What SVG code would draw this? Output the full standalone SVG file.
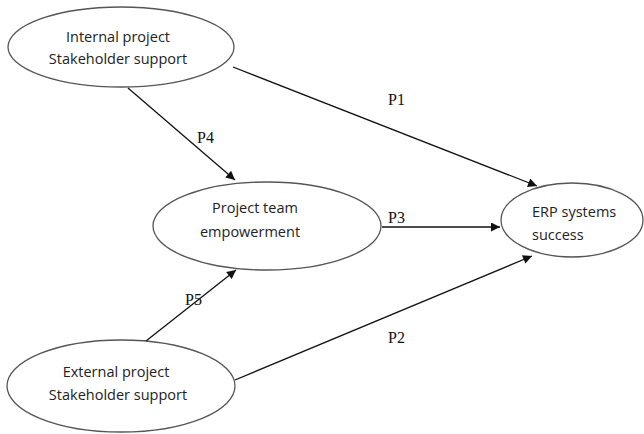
<svg xmlns="http://www.w3.org/2000/svg" width="644" height="434" viewBox="0 0 644 434">
<style>
.n{fill:#fff;stroke:#555;stroke-width:1.3}
.t{font-family:"Open Sans","Liberation Sans",sans-serif;font-size:14.5px;fill:#222}
.l{font-family:"Liberation Serif",serif;font-size:16px;fill:#111}
.c{stroke:#111;stroke-width:1.3;fill:none;marker-end:url(#a)}
</style>
<defs>
<marker id="a" viewBox="0 0 10 10" refX="10" refY="5" markerWidth="11" markerHeight="9" markerUnits="userSpaceOnUse" orient="auto"><path d="M0,0L10,5L0,10z" fill="#111"/></marker>
</defs>
<rect width="644" height="434" fill="#fff"/>
<g id="internal"><ellipse class="n" cx="121" cy="47" rx="113" ry="40"/>
<text class="t" x="118" y="42" text-anchor="middle">Internal project</text>
<text class="t" x="118" y="64" text-anchor="middle">Stakeholder support</text></g>
<g id="team"><ellipse class="n" cx="267" cy="226" rx="114" ry="44"/>
<text class="t" x="255" y="213" text-anchor="middle">Project team</text>
<text class="t" x="250" y="237" text-anchor="middle">empowerment</text></g>
<g id="erp"><ellipse class="n" cx="572" cy="220" rx="71" ry="37"/>
<text class="t" x="532" y="217">ERP systems</text>
<text class="t" x="532" y="240">success</text></g>
<g id="external"><ellipse class="n" cx="121" cy="386" rx="114" ry="46"/>
<text class="t" x="116" y="377" text-anchor="middle">External project</text>
<text class="t" x="118" y="400" text-anchor="middle">Stakeholder support</text></g>
<g id="connectors">
<line class="c" x1="233" y1="67" x2="537" y2="186"/>
<line class="c" x1="128" y1="88" x2="235" y2="180"/>
<line class="c" x1="382" y1="227" x2="500" y2="227"/>
<line class="c" x1="146" y1="341" x2="236" y2="270"/>
<line class="c" x1="235" y1="380" x2="532" y2="256"/>
<text class="l" x="388" y="105">P1</text>
<text class="l" x="197" y="143">P4</text>
<text class="l" x="388" y="223">P3</text>
<text class="l" x="185" y="305">P5</text>
<text class="l" x="388" y="343">P2</text>
</g>
</svg>
